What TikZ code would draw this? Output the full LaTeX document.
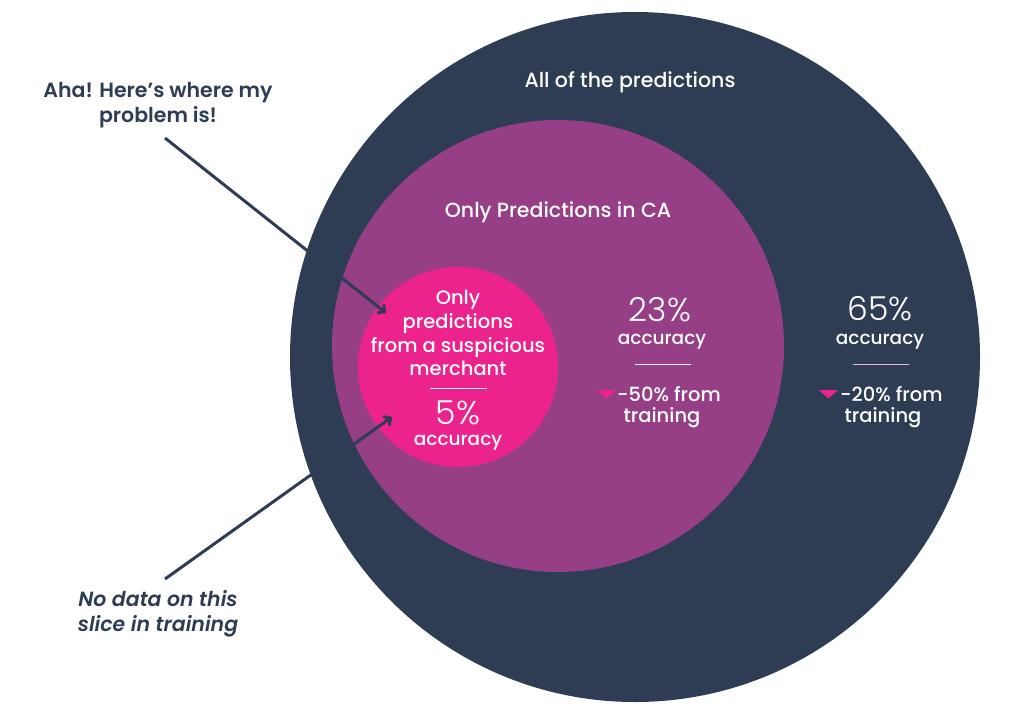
\documentclass[tikz,border=0pt]{standalone}
\usepackage{fontspec}
\setmainfont{Poppins}
\newfontfamily\pmed{Poppins Medium}
\newfontfamily\plight{Poppins Light}
\newfontfamily\psemi{Poppins SemiBold}
\newfontfamily\psemiit{Poppins SemiBold Italic}
\usetikzlibrary{arrows.meta}
\definecolor{navy}{HTML}{2E3C54}
\definecolor{purp}{HTML}{963F87}
\definecolor{pinkc}{HTML}{EC238D}
\definecolor{seppink}{HTML}{E8B4D8}
\tikzset{
  disc/.style={circle, inner sep=0pt, draw=none},
  wtext/.style={text=white, align=center, inner sep=0pt, anchor=base},
  title/.style={wtext, font=\pmed\fontsize{20.5}{24}\selectfont},
  body/.style={wtext, font=\pmed\fontsize{19.5}{24}\selectfont},
  big/.style={wtext, text depth=0pt, font=\plight\fontsize{33}{36}\selectfont},
  acc/.style={wtext, text height=1.5ex, font=\pmed\fontsize{18.5}{20}\selectfont},
  label/.style={text=navy, align=center, inner sep=0pt, font=\psemi\fontsize{20.5}{25}\selectfont},
  ilabel/.style={text=navy, align=center, inner sep=0pt, font=\psemiit\fontsize{20.5}{25}\selectfont},
  pointer/.style={draw=navy, line width=3pt, -{Straight Barb[length=5pt,width=11pt]}},
  tri/.style={fill=pinkc},
}
\begin{document}
\begin{tikzpicture}[x=1pt,y=-1pt]
\useasboundingbox (0,0) rectangle (1014,715);
% circles
\node[disc, fill=navy, minimum size=690pt] (outer) at (635,357) {};
\node[disc, fill=purp, minimum size=452pt] (mid) at (558,346) {};
\node[disc, fill=pinkc, minimum size=200pt] (inner) at (458,367) {};
% outer texts
\node[title] (tall) at (630,87) {All of the predictions};
\node[big] (p65) at (880,320.5) {65\%};
\node[acc] (a65) at (880,344) {accuracy};
\draw[seppink, line width=0.8pt] (853,364) -- (909,364);
\node[body, anchor=base west] (d65) at (840,401) {-20\% from};
\node[body] (tr65) at (883,422) {training};
\fill[tri] (819,390) -- (838,390) -- (828.5,398.5) -- cycle;
% middle texts
\node[title] (tca) at (558,217) {Only Predictions in CA};
\node[big] (p23) at (660,321) {23\%};
\node[acc] (a23) at (662,344) {accuracy};
\draw[white, line width=0.8pt] (635,364) -- (691,364);
\node[body, anchor=base west] (d23) at (617,401) {-50\% from};
\node[body] (tr23) at (662,422) {training};
\fill[tri] (597,390) -- (616,390) -- (606.5,398.5) -- cycle;
% inner texts
\node[body] (tin1) at (458,304) {Only};
\node[body] (tin2) at (458,328) {predictions};
\node[body] (tin3) at (458,352) {from a suspicious};
\node[body] (tin4) at (458,375) {merchant};
\draw[white, line width=0.8pt] (430,388) -- (487,388);
\node[big] (p5) at (458,424) {5\%};
\node[acc] (a5) at (458,445) {accuracy};
% labels
\node[label] (aha) at (158,105) {Aha! Here’s where my\\problem is!};
\node[ilabel] (nod) at (158,614) {No data on this\\slice in training};
\coordinate (a1s) at (165,138);
\coordinate (a1e) at (386,313);
\coordinate (a2s) at (165,579);
\coordinate (a2e) at (392,417);
\draw[pointer] (a1s) -- (a1e);
\draw[pointer] (a2s) -- (a2e);
\end{tikzpicture}
\end{document}
